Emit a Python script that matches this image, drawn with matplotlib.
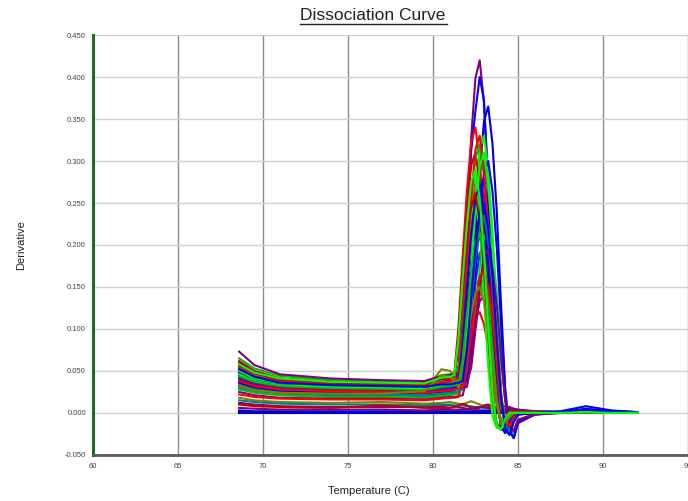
import matplotlib
matplotlib.use('Agg')
import matplotlib.pyplot as plt
from matplotlib.lines import Line2D

plt.rcParams['font.family'] = ['Liberation Sans', 'DejaVu Sans']

# temperature grid (C) shared by every well
temps = [68.6, 69.5, 71.0, 74.0, 77.0, 79.5, 80.5,
         81.0, 81.25, 81.5, 81.75, 82.0, 82.25, 82.5, 82.75, 83.0,
         83.25, 83.5, 83.75, 84.0, 84.25, 84.5, 84.75, 85.0,
         86.0, 87.5, 89.0, 90.5, 92.0]

# wells with a product peak (derivative values)
peak_wells = [
    [.058, .047, .038, .033, .032, .030, .034,
     .036, .040, .055, .126, .231, .328, .399, .420, .370, .277, .151, .034, -.018, -.022, -.008, .000, .000,
     .000, .001, .002, .001, .000],
    [.050, .041, .034, .030, .029, .028, .030,
     .031, .035, .048, .120, .220, .312, .360, .400, .372, .264, .144, .032, -.016, -.024, -.010, -.002, .000,
     .001, .002, .008, .003, .001],
    [.045, .037, .032, .028, .027, .026, .028,
     .029, .030, .032, .035, .044, .110, .200, .285, .347, .365, .321, .241, .131, .029, -.022, -.030, -.012,
     .000, .001, .004, .002, .001],
    [.062, .050, .041, .036, .035, .034, .042,
     .040, .045, .102, .187, .265, .323, .340, .299, .224, .122, .027, -.016, -.020, -.007, .000, .001, .001,
     .001, .000, .001, .000, .000],
    [.055, .045, .038, .034, .033, .032, .035,
     .036, .038, .040, .046, .099, .182, .257, .314, .330, .290, .218, .119, .026, -.018, -.022, -.008, .000,
     .000, .001, .002, .001, .000],
    [.050, .041, .036, .033, .032, .031, .037,
     .039, .043, .093, .171, .242, .295, .310, .273, .205, .112, .025, -.015, -.020, -.006, .000, .000, .000,
     .000, .000, .001, .000, .000],
    [.040, .033, .029, .027, .026, .025, .028,
     .029, .030, .032, .040, .090, .165, .234, .285, .300, .264, .198, .108, .024, -.017, -.021, -.007, .000,
     .000, .000, .001, .000, .000],
    [.065, .053, .044, .039, .037, .036, .045,
     .046, .048, .052, .096, .176, .250, .304, .320, .282, .211, .115, .026, -.017, -.021, -.007, .000, .000,
     .000, .001, .001, .000, .000],
    [.048, .040, .035, .032, .031, .030, .036,
     .038, .040, .042, .087, .160, .226, .276, .290, .255, .191, .104, .023, -.016, -.022, -.008, .000, .000,
     .000, .000, .001, .000, .000],
    [.043, .036, .031, .029, .028, .027, .030,
     .031, .032, .034, .038, .084, .154, .218, .266, .280, .246, .185, .101, .022, -.020, -.026, -.010, -.002,
     .000, .001, .003, .001, .000],
    [.035, .029, .025, .023, .024, .026, .052,
     .050, .045, .081, .149, .211, .257, .270, .238, .178, .097, .022, -.014, -.018, -.006, .000, .000, .000,
     .000, .000, .001, .000, .000],
    [.060, .049, .041, .037, .035, .034, .037,
     .038, .039, .040, .042, .078, .143, .203, .247, .260, .229, .172, .094, .021, -.016, -.020, -.007, .000,
     .000, .001, .002, .001, .000],
    [.052, .043, .036, .032, .031, .030, .040,
     .042, .044, .075, .138, .195, .238, .250, .220, .165, .090, .020, -.014, -.018, -.006, .000, .000, .000,
     .000, .000, .001, .000, .000],
    [.045, .037, .032, .030, .029, .028, .033,
     .034, .035, .036, .038, .072, .132, .187, .228, .240, .211, .158, .086, .019, -.016, -.022, -.008, .000,
     .000, .000, .001, .000, .000],
    [.038, .032, .028, .026, .025, .024, .027,
     .028, .029, .031, .069, .127, .179, .219, .230, .202, .152, .083, .018, -.014, -.018, -.006, .000, .000,
     .000, .000, .001, .000, .000],
    [.056, .046, .039, .035, .034, .033, .036,
     .036, .037, .038, .039, .040, .066, .121, .172, .209, .220, .194, .145, .079, .018, -.018, -.024, -.009,
     -.002, .000, .001, .000, .000],
    [.073, .057, .046, .041, .039, .038, .044,
     .045, .046, .047, .063, .116, .164, .200, .210, .185, .139, .076, .017, -.013, -.017, -.006, .000, .000,
     .000, .000, .001, .000, .000],
    [.042, .035, .030, .028, .027, .026, .029,
     .030, .031, .032, .033, .060, .110, .156, .190, .200, .176, .132, .072, .016, -.015, -.020, -.007, .000,
     .000, .000, .001, .000, .000],
    [.030, .026, .023, .021, .021, .020, .022,
     .023, .024, .025, .057, .105, .148, .181, .190, .167, .125, .068, .015, -.012, -.016, -.005, .000, .000,
     .000, .000, .001, .000, .000],
    [.050, .041, .035, .032, .031, .030, .033,
     .033, .034, .035, .036, .037, .054, .099, .140, .171, .180, .158, .119, .065, .014, -.016, -.021, -.008,
     -.001, .000, .001, .000, .000],
    [.028, .024, .021, .019, .019, .018, .020,
     .021, .022, .023, .048, .088, .125, .152, .160, .141, .106, .058, .013, -.010, -.014, -.005, .000, .000,
     .000, .000, .001, .000, .000],
    [.025, .021, .018, .017, .017, .016, .018,
     .019, .019, .020, .021, .042, .077, .109, .133, .140, .123, .092, .050, .011, -.010, -.014, -.005, .000,
     .000, .000, .001, .000, .000],
    [.022, .019, .017, .016, .016, .015, .017,
     .018, .018, .019, .036, .066, .094, .114, .120, .106, .079, .043, .010, -.008, -.011, -.004, .000, .000,
     .000, .000, .001, .000, .000],
    [.047, .039, .034, .031, .030, .029, .031,
     .032, .033, .034, .035, .040, .090, .165, .234, .285, .300, .264, .198, .108, .024, -.020, -.030, -.012,
     -.002, .001, .005, .002, .001],
    [.050, .041, .036, .033, .032, .031, .036,
     .036, .040, .084, .154, .218, .266, .280, .224, .140, .056, -.004, -.018, -.010, -.002, .000, .000, .000,
     .000, .000, .001, .000, .000],
    [.054, .044, .038, .034, .033, .032, .036,
     .037, .039, .041, .099, .182, .257, .314, .330, .290, .218, .119, .026, -.017, -.022, -.008, .000, .000,
     .000, .000, .001, .000, .000],
    [.046, .038, .033, .031, .030, .029, .032,
     .033, .034, .035, .037, .093, .171, .242, .295, .310, .273, .205, .112, .025, -.018, -.024, -.009, .000,
     .000, .000, .001, .000, .000],
    [.036, .030, .026, .024, .024, .023, .025,
     .026, .027, .032, .081, .149, .211, .257, .270, .238, .178, .097, .022, -.016, -.024, -.010, -.001, .000,
     .000, .001, .002, .001, .000],
    [.057, .047, .040, .036, .035, .034, .040,
     .041, .043, .078, .143, .203, .247, .260, .229, .172, .094, .021, -.014, -.019, -.006, .000, .000, .000,
     .000, .000, .001, .000, .000],
    [.033, .028, .024, .022, .022, .021, .023,
     .024, .025, .026, .028, .071, .129, .183, .223, .235, .207, .155, .085, .019, -.015, -.020, -.007, .000,
     .000, .000, .001, .000, .000],
    [.044, .037, .032, .029, .028, .027, .031,
     .032, .033, .034, .065, .118, .168, .204, .215, .189, .142, .077, .017, -.013, -.018, -.006, .000, .000,
     .000, .000, .001, .000, .000],
    [.040, .034, .029, .027, .026, .025, .027,
     .027, .028, .029, .030, .031, .059, .107, .152, .185, .195, .172, .129, .070, .016, -.016, -.022, -.009,
     -.002, .000, .001, .000, .000],
    [.038, .032, .028, .026, .025, .024, .026,
     .027, .028, .029, .030, .051, .094, .133, .162, .170, .150, .112, .061, .014, -.012, -.016, -.005, .000,
     .000, .000, .001, .000, .000],
    [.032, .027, .024, .023, .023, .026, .045,
     .043, .038, .030, .045, .083, .117, .143, .150, .132, .099, .054, .012, -.010, -.013, -.004, .000, .000,
     .000, .000, .001, .000, .000],
    [.052, .043, .036, .033, .032, .031, .034,
     .034, .035, .036, .038, .075, .138, .195, .238, .250, .220, .165, .090, .020, -.018, -.026, -.011, -.002,
     .000, .001, .004, .001, .000],
    [.058, .048, .041, .037, .036, .035, .042,
     .043, .045, .087, .160, .226, .276, .290, .255, .191, .104, .023, -.015, -.020, -.007, .000, .000, .000,
     .000, .000, .001, .000, .000],
]
peak_colors = ['#800080', '#0000ff', '#0000cc', '#ff0000', '#00ff00',
               '#c00000', '#008080', '#00c000', '#ff0000', '#0000ff',
               '#808000', '#800080', '#00ff00', '#e00000', '#000080',
               '#00e000', '#800080', '#2020ff', '#008080', '#c00000',
               '#00c000', '#800080', '#ff0000', '#0000ff', '#00ff00',
               '#ff0000', '#00ff00', '#0000ff', '#c00000', '#008080',
               '#00c000', '#800080', '#ff0000', '#808000', '#0000ff',
               '#00ff00']

# wells without product (flat near zero)
flat_wells = [
    [.003, .002, .002, .002, .002, .002, .002,
     .002, .002, .002, .002, .002, .002, .003, .003, .003, .003, .003, .002, .002, .002, .001, .001, .001,
     .001, .001, .002, .001, .001],
    [.012, .010, .008, .007, .007, .007, .008,
     .009, .008, .007, .006, .005, .005, .006, .007, .008, .008, .007, .006, .007, .008, .007, .005, .003,
     .002, .001, .002, .001, .000],
    [.001, .001, .001, .000, .000, .000, .001,
     .001, .001, .001, .001, .001, .001, .001, .001, .001, .001, .001, .001, .000, .000, .000, .000, .000,
     .000, .000, .000, .000, .000],
    [.018, .015, .013, .012, .013, .011, .012,
     .013, .012, .011, .010, .012, .014, .012, .010, .008, .006, .005, .006, .007, .006, .004, .003, .002,
     .001, .001, .001, .000, .000],
    [.015, .013, .011, .010, .010, .009, .010,
     .010, .009, .009, .009, .008, .008, .007, .007, .006, .006, .005, .004, .004, .003, .003, .002, .002,
     .001, .001, .001, .001, .000],
    [.010, .008, .007, .006, .009, .006, .006,
     .006, .007, .009, .011, .009, .006, .004, .006, .009, .010, .008, .004, .002, .001, .002, .003, .002,
     .001, .000, .001, .000, .000],
    [.000, .000, .000, .000, .000, .000, .000,
     .000, .000, .000, .000, .000, .000, .000, .000, .000, .000, .000, .000, .000, .000, .000, .000, .000,
     .000, .000, .000, .000, .000],
    [.006, .005, .004, .004, .004, .003, .004,
     .004, .004, .004, .004, .004, .005, .006, .007, .007, .006, .004, .003, .003, .004, .005, .005, .004,
     .002, .001, .001, .001, .000],
]
flat_colors = ['#0000ff', '#800080', '#000080', '#808000',
               '#008080', '#c00000', '#0000cc', '#800080']

x_ticks = [60, 65, 70, 75, 80, 85, 90, 95]
y_ticks = [-0.05, 0.0, 0.05, 0.1, 0.15, 0.2, 0.25, 0.3, 0.35, 0.4, 0.45]

fig = plt.figure(figsize=(6.88, 5.01), dpi=100)
ax = fig.add_axes([0.135, 0.092, 0.865, 0.838])

for vals, c in zip(flat_wells, flat_colors):
    ax.plot(temps, vals, color=c, lw=1.5, zorder=2)
for vals, c in zip(peak_wells, peak_colors):
    ax.plot(temps, vals, color=c, lw=1.5, zorder=3)

ax.set_xlim(60, 95)
ax.set_ylim(-0.05, 0.45)
ax.set_xticks(x_ticks)
ax.set_yticks(y_ticks)
ax.set_yticklabels(['%.3f' % v for v in y_ticks])
ax.tick_params(length=0, labelsize=5.5, colors='#444444')
ax.tick_params(axis='y', pad=5)
ax.tick_params(axis='x', pad=6)

ax.grid(axis='x', color='#8c8c8c', lw=1.0, zorder=0)
ax.grid(axis='y', color='#d0d0d0', lw=1.0, zorder=0)
ax.set_axisbelow(True)

ax.spines['top'].set_visible(False)
ax.spines['right'].set_visible(False)
ax.spines['left'].set_color('#1f6e1f')
ax.spines['left'].set_linewidth(2.2)
ax.spines['bottom'].set_color('#5a5a5a')
ax.spines['bottom'].set_linewidth(2.0)

fig.text(0.542, 0.970, 'Dissociation Curve', ha='center', va='center',
         fontsize=12.5, color='#222222')
fig.add_artist(Line2D([0.436, 0.650], [0.953, 0.953], color='#222222', lw=1.0))
fig.text(0.03, 0.51, 'Derivative', rotation=90, ha='center', va='center',
         fontsize=8, color='#222222')
fig.text(0.536, 0.02, 'Temperature (C)', ha='center', va='center',
         fontsize=8, color='#222222')

fig.savefig('out.png', dpi=100)
